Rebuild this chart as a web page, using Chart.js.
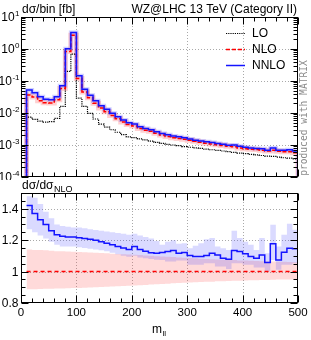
<!DOCTYPE html>
<html><head><meta charset="utf-8">
<script src="https://cdn.jsdelivr.net/npm/chart.js@4.4.0/dist/chart.umd.min.js"></script>
<style>
html,body{margin:0;padding:0;background:#fff;width:311px;height:340px;overflow:hidden}
canvas{position:absolute;left:0}
#c1{top:0}
#c2{top:180px}
</style></head>
<body>
<canvas id="c1" width="311" height="180"></canvas>
<canvas id="c2" width="311" height="160"></canvas>
<script>
// ---------------- data ----------------
const binEdges = [10,20,30,40,50,60,70,80,90,100,110,120,130,140,150,160,170,180,190,200,
  210,220,230,240,250,260,270,280,290,300,310,320,330,340,350,360,370,380,390,400,
  410,420,430,440,450,460,470,480,490,500];

const nnlo = [0.052, 0.043, 0.032, 0.027, 0.026, 0.032, 0.071, 1.02, 3.3, 0.145,
  0.055, 0.036, 0.024, 0.017, 0.013, 0.0098, 0.0077, 0.0060, 0.0050, 0.0045,
  0.0037, 0.0033, 0.0030, 0.0026, 0.0023, 0.0021, 0.0019, 0.0018, 0.0017, 0.00155,
  0.00142, 0.00133, 0.00126, 0.00120, 0.00112, 0.00105, 0.00098, 0.00100, 0.00091, 0.00085,
  0.00081, 0.00078, 0.00076, 0.00069, 0.00081, 0.00069, 0.00069, 0.00071, 0.00065];

const nlo = [0.0366, 0.0314, 0.0241, 0.0208, 0.0206, 0.0259, 0.058, 0.836, 2.70, 0.119,
  0.0455, 0.0299, 0.0200, 0.0143, 0.0110, 0.0084, 0.0066, 0.0052, 0.0044, 0.0039,
  0.00325, 0.0029, 0.00268, 0.00233, 0.00205, 0.00186, 0.00168, 0.00161, 0.00152, 0.00141,
  0.00130, 0.00121, 0.00114, 0.00107, 0.00101, 0.00097, 0.00091, 0.00088, 0.00081, 0.00076,
  0.00074, 0.00072, 0.00069, 0.00065, 0.00069, 0.00064, 0.00061, 0.00062, 0.00057];

const lo = [0.0074, 0.0063, 0.0056, 0.0052, 0.0054, 0.0068, 0.016, 0.20, 0.69, 0.029,
  0.016, 0.0098, 0.0065, 0.0045, 0.0036, 0.0030, 0.0025, 0.0021, 0.0018, 0.0017,
  0.00155, 0.00144, 0.00133, 0.0012, 0.00112, 0.00105, 0.0010, 0.00095, 0.00089, 0.00085,
  0.00081, 0.00078, 0.00074, 0.00071, 0.00068, 0.00065, 0.00062, 0.00059, 0.00056, 0.00054,
  0.00051, 0.00049, 0.00047, 0.00045, 0.00044, 0.00042, 0.00040, 0.00039, 0.00037];

const ratioNNLO = [1.42, 1.37, 1.33, 1.30, 1.26, 1.235, 1.225, 1.22, 1.22, 1.215,
  1.21, 1.205, 1.20, 1.19, 1.18, 1.17, 1.16, 1.15, 1.14, 1.16,
  1.14, 1.13, 1.12, 1.117, 1.121, 1.128, 1.134, 1.117, 1.121, 1.102,
  1.096, 1.096, 1.102, 1.117, 1.106, 1.085, 1.079, 1.134, 1.128, 1.113,
  1.096, 1.085, 1.106, 1.057, 1.177, 1.074, 1.123, 1.149, 1.145];

const ratioNNLOHigh = [1.48, 1.47, 1.43, 1.38, 1.34, 1.30, 1.29, 1.285, 1.28, 1.28,
  1.275, 1.27, 1.265, 1.26, 1.255, 1.25, 1.245, 1.24, 1.235, 1.24,
  1.23, 1.22, 1.21, 1.195, 1.17, 1.19, 1.20, 1.177, 1.18, 1.149,
  1.164, 1.18, 1.206, 1.213, 1.16, 1.149, 1.138, 1.26, 1.213, 1.19,
  1.17, 1.138, 1.213, 1.117, 1.298, 1.16, 1.234, 1.304, 1.266];

const ratioNNLOLow = [1.27, 1.25, 1.23, 1.21, 1.19, 1.17, 1.16, 1.16, 1.16, 1.155,
  1.15, 1.145, 1.14, 1.135, 1.13, 1.12, 1.11, 1.10, 1.095, 1.10,
  1.09, 1.085, 1.08, 1.075, 1.074, 1.064, 1.064, 1.07, 1.07, 1.043,
  1.043, 1.043, 1.053, 1.053, 1.032, 1.032, 1.017, 1.053, 1.053, 1.043,
  1.043, 1.026, 1.026, 1.0, 1.074, 1.011, 1.043, 1.043, 1.053];

const ratioNLO = [1,1,1,1,1,1,1,1,1,1, 1,1,1,1,1,1,1,1,1,1, 1,1,1,1,1,1,1,1,1,1,
  1,1,1,1,1,1,1,1,1,1, 1,1,1,1,1,1,1,1,1];

const ratioNLOHigh = [1.14, 1.138, 1.137, 1.135, 1.133, 1.13, 1.129, 1.127, 1.126, 1.124,
  1.123, 1.121, 1.12, 1.118, 1.116, 1.114, 1.112, 1.11, 1.108, 1.107,
  1.105, 1.103, 1.1, 1.098, 1.096, 1.094, 1.092, 1.09, 1.088, 1.086,
  1.084, 1.082, 1.08, 1.079, 1.077, 1.076, 1.074, 1.073, 1.071, 1.07,
  1.069, 1.068, 1.066, 1.065, 1.064, 1.063, 1.062, 1.061, 1.06];

const ratioNLOLow = [0.888, 0.888, 0.889, 0.89, 0.891, 0.892, 0.893, 0.894, 0.895, 0.896,
  0.897, 0.899, 0.9, 0.902, 0.903, 0.905, 0.906, 0.908, 0.909, 0.911,
  0.913, 0.915, 0.917, 0.919, 0.921, 0.923, 0.925, 0.927, 0.929, 0.93,
  0.932, 0.933, 0.935, 0.936, 0.938, 0.939, 0.94, 0.941, 0.942, 0.943,
  0.944, 0.945, 0.946, 0.947, 0.948, 0.949, 0.949, 0.95, 0.95];

const xTickValues = [0, 100, 200, 300, 400, 500];
const xTickLabels = ['0', '100', '200', '300', '400', '500'];
const yTopTickValues = [10, 1, 0.1, 0.01, 0.001, 0.0001];
const yTopTickExps = ['1', '0', '-1', '-2', '-3', '-4'];
const yRatioTickValues = [0.8, 1.0, 1.2, 1.4];
const yRatioTickLabels = ['0.8', '1', '1.2', '1.4'];
const legendLabels = ['LO', 'NLO', 'NNLO'];
const titleText = 'WZ@LHC 13 TeV (Category II)';

// ---------------- helpers ----------------
const FONT = '"Liberation Sans", Arial, sans-serif';
const FLOOR = 1e-8; // below the axis: histogram edges drop out of the frame

function stepPoints(vals, floor) {
  const pts = [];
  if (floor !== undefined) pts.push({x: binEdges[0], y: floor});
  vals.forEach((v, i) => pts.push({x: binEdges[i], y: v}));
  pts.push({x: binEdges[vals.length], y: vals[vals.length - 1]});
  if (floor !== undefined) pts.push({x: binEdges[vals.length], y: floor});
  return pts;
}

function decor(opts) {
  return {
    id: opts.id,
    beforeDatasetsDraw(chart) {
      const ctx = chart.ctx, a = chart.chartArea, xs = chart.scales.x, ys = chart.scales.y;
      ctx.save();
      ctx.strokeStyle = '#a9a9a9'; ctx.lineWidth = 1; ctx.setLineDash([1, 2]);
      ctx.beginPath();
      opts.xGrid.forEach(v => { const p = Math.round(xs.getPixelForValue(v)) + 0.5; ctx.moveTo(p, a.top); ctx.lineTo(p, a.bottom); });
      opts.yGrid.forEach(v => { const p = Math.round(ys.getPixelForValue(v)) + 0.5; ctx.moveTo(a.left, p); ctx.lineTo(a.right, p); });
      ctx.stroke();
      ctx.restore();
    },
    afterDatasetsDraw(chart) {
      const ctx = chart.ctx, a = chart.chartArea, xs = chart.scales.x, ys = chart.scales.y;
      ctx.save();
      ctx.setLineDash([]); ctx.strokeStyle = '#000'; ctx.lineWidth = 1;
      const L = Math.round(a.left) + 0.5, R = Math.round(a.right) - 0.5;
      const T = Math.round(a.top) + 0.5, B = Math.round(a.bottom) - 0.5;
      ctx.strokeRect(L, T, R - L, B - T);
      ctx.beginPath();
      opts.xMarks.forEach(([v, len]) => {
        const p = Math.round(xs.getPixelForValue(v)) + 0.5;
        ctx.moveTo(p, B); ctx.lineTo(p, B - len); ctx.moveTo(p, T); ctx.lineTo(p, T + len);
      });
      opts.yMarks.forEach(([v, len]) => {
        const p = Math.round(ys.getPixelForValue(v)) + 0.5;
        ctx.moveTo(L, p); ctx.lineTo(L + len, p); ctx.moveTo(R, p); ctx.lineTo(R - len, p);
      });
      ctx.stroke();
      opts.labels(ctx, a, xs, ys);
      ctx.restore();
    }
  };
}

const xMarks = [];
for (let v = 0; v <= 500; v += 20) xMarks.push([v, v % 100 === 0 ? 7 : 4]);
const yTopMarks = [[10, 7]];
for (let e = -4; e <= 0; e++) for (let k = 1; k <= 9; k++) yTopMarks.push([k * Math.pow(10, e), k === 1 ? 7 : 4]);
const yRatioMarks = [];
for (let i = 0; i <= 14; i++) yRatioMarks.push([0.8 + 0.05 * i, i % 4 === 0 ? 7 : 4]);

// ---------------- top panel ----------------
const lineBase = {stepped: 'before', pointRadius: 0, fill: false, tension: 0};

new Chart(document.getElementById('c1'), {
  type: 'line',
  data: {datasets: [
    Object.assign({label: 'NNLO', data: stepPoints(nnlo, FLOOR), borderColor: '#1414ff', borderWidth: 1.5, order: 0}, lineBase),
    Object.assign({label: 'NLO', data: stepPoints(nlo, FLOOR), borderColor: '#ff0000', borderWidth: 1.5, borderDash: [4, 2], order: 1}, lineBase),
    Object.assign({label: 'LO', data: stepPoints(lo, FLOOR), borderColor: '#000000', borderWidth: 1.2, borderDash: [1.2, 1], order: 2}, lineBase),
    Object.assign({label: 'NNLO halo', data: stepPoints(nnlo, FLOOR), borderColor: 'rgba(40,40,255,0.22)', borderWidth: 4, order: 3}, lineBase),
    Object.assign({label: 'NLO halo', data: stepPoints(nlo, FLOOR), borderColor: 'rgba(255,40,40,0.22)', borderWidth: 5, order: 4}, lineBase)
  ]},
  options: {
    responsive: false, animation: false, devicePixelRatio: 1,
    layout: {padding: {left: 21, right: 13, top: 17, bottom: 3}},
    scales: {
      x: {type: 'linear', min: 0, max: 500, display: false},
      y: {type: 'logarithmic', min: 1e-4, max: 10, display: false}
    },
    plugins: {legend: {display: false}, tooltip: {enabled: false}}
  },
  plugins: [decor({
    id: 'topDecor',
    xGrid: [100, 200, 300, 400],
    yGrid: [1, 0.1, 0.01, 0.001],
    xMarks: xMarks, yMarks: yTopMarks,
    labels(ctx, a, xs, ys) {
      ctx.fillStyle = '#000';
      ctx.textAlign = 'left'; ctx.textBaseline = 'alphabetic';
      // y tick labels 10^n
      yTopTickValues.forEach((v, i) => {
        const yc = ys.getPixelForValue(v);
        ctx.font = '12px ' + FONT;
        const wb = ctx.measureText('10').width;
        ctx.font = '8px ' + FONT;
        const we = ctx.measureText(yTopTickExps[i]).width;
        const x0 = 19.5 - we - wb - 0.5;
        ctx.font = '12px ' + FONT; ctx.fillText('10', x0, yc + 4.3);
        ctx.font = '8px ' + FONT; ctx.fillText(yTopTickExps[i], x0 + wb + 0.5, yc - 0.8);
      });
      // axis title and plot title
      ctx.font = '12px ' + FONT;
      ctx.fillText('d\u03c3/bin [fb]', 22, 13);
      ctx.textAlign = 'right';
      ctx.fillText(titleText, 297, 13);
      // legend
      const styles = [
        {c: '#000', w: 1.2, d: [1.2, 1]},
        {c: '#ff0000', w: 1.5, d: [4, 2]},
        {c: '#1414ff', w: 1.5, d: []}
      ];
      const rows = [33.5, 49.5, 65.5];
      legendLabels.forEach((t, i) => {
        ctx.save();
        ctx.strokeStyle = styles[i].c; ctx.lineWidth = styles[i].w; ctx.setLineDash(styles[i].d);
        ctx.beginPath(); ctx.moveTo(226, rows[i]); ctx.lineTo(245, rows[i]); ctx.stroke();
        ctx.restore();
        ctx.textAlign = 'left'; ctx.textBaseline = 'middle';
        ctx.font = '12px ' + FONT;
        ctx.fillStyle = '#000';
        ctx.fillText(t, 252, rows[i] + 0.5);
      });
      // vertical credit text
      ctx.save();
      ctx.translate(304, 118);
      ctx.rotate(-Math.PI / 2);
      ctx.font = '9.6px "DejaVu Sans Mono", monospace';
      ctx.fillStyle = '#8a8a8a';
      ctx.textAlign = 'center'; ctx.textBaseline = 'middle';
      ctx.fillText('produced with MATRIX', 0, 0);
      ctx.restore();
    }
  })]
});

// ---------------- ratio panel ----------------
new Chart(document.getElementById('c2'), {
  type: 'line',
  data: {datasets: [
    Object.assign({label: 'NLO band low', data: stepPoints(ratioNLOLow), borderWidth: 0, borderColor: 'rgba(0,0,0,0)', order: 6}, lineBase),
    Object.assign({}, lineBase, {label: 'NLO band', data: stepPoints(ratioNLOHigh), borderWidth: 0, borderColor: 'rgba(0,0,0,0)', fill: '-1', backgroundColor: 'rgba(255,70,70,0.2)', order: 5}),
    Object.assign({label: 'NNLO band low', data: stepPoints(ratioNNLOLow), borderWidth: 0, borderColor: 'rgba(0,0,0,0)', order: 4}, lineBase),
    Object.assign({}, lineBase, {label: 'NNLO band', data: stepPoints(ratioNNLOHigh), borderWidth: 0, borderColor: 'rgba(0,0,0,0)', fill: '-1', backgroundColor: 'rgba(60,60,255,0.19)', order: 3}),
    Object.assign({label: 'NLO', data: stepPoints(ratioNLO), borderColor: '#ff0000', borderWidth: 1.5, borderDash: [4, 3], order: 1}, lineBase),
    Object.assign({label: 'NNLO', data: stepPoints(ratioNNLO), borderColor: '#1414ff', borderWidth: 1.5, order: 0}, lineBase)
  ]},
  options: {
    responsive: false, animation: false, devicePixelRatio: 1,
    layout: {padding: {left: 21, right: 13, top: 13, bottom: 37}},
    scales: {
      x: {type: 'linear', min: 0, max: 500, display: false},
      y: {type: 'linear', min: 0.8, max: 1.5, display: false}
    },
    plugins: {legend: {display: false}, tooltip: {enabled: false}, filler: {propagate: false}}
  },
  plugins: [decor({
    id: 'ratioDecor',
    xGrid: [100, 200, 300, 400],
    yGrid: [1.0, 1.2, 1.4],
    xMarks: xMarks, yMarks: yRatioMarks,
    labels(ctx, a, xs, ys) {
      ctx.fillStyle = '#000';
      ctx.textBaseline = 'alphabetic';
      ctx.font = '12px ' + FONT;
      ctx.textAlign = 'right';
      yRatioTickValues.forEach((v, i) => {
        ctx.fillText(yRatioTickLabels[i], 18.5, ys.getPixelForValue(v) + 4.3);
      });
      ctx.textAlign = 'center';
      ctx.font = '11.5px ' + FONT;
      xTickValues.forEach((v, i) => {
        ctx.fillText(xTickLabels[i], xs.getPixelForValue(v), 136);
      });
      // ratio axis label
      ctx.textAlign = 'left';
      ctx.font = '12px ' + FONT;
      ctx.fillText('d\u03c3/d\u03c3', 22, 8.5);
      const w = ctx.measureText('d\u03c3/d\u03c3').width;
      ctx.font = '9px ' + FONT;
      ctx.fillText('NLO', 22 + w + 0.5, 12);
      // x axis title m_ll
      ctx.font = '12px ' + FONT;
      ctx.fillText('m', 152, 153);
      const wm = ctx.measureText('m').width;
      ctx.font = '8px ' + FONT;
      ctx.fillText('ll', 152 + wm + 0.5, 156);
    }
  })]
});
</script>
</body></html>
